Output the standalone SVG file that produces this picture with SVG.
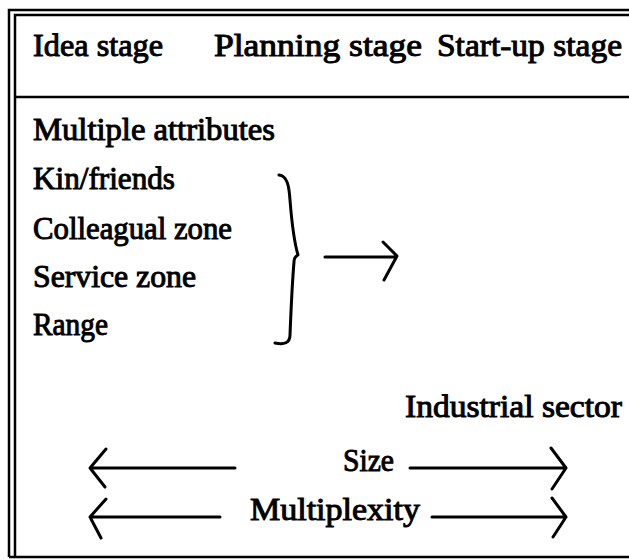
<svg xmlns="http://www.w3.org/2000/svg" width="629" height="560" viewBox="0 0 629 560">
<style>
.t{font-family:'Liberation Serif',serif;font-size:32px;fill:#000;stroke:#000;stroke-width:1px}
.frame{stroke:#000;stroke-width:2.5;fill:none}
.hand{stroke:#000;stroke-width:3;fill:none;stroke-linecap:round;stroke-linejoin:round}
</style>
<rect width="629" height="560" fill="#fff"/>
<g id="frame">
<path class="frame" d="M9,557 V10 H629"/>
<path class="frame" d="M15,557 V15 H629"/>
<path class="frame" d="M15,97 H629"/>
<path class="frame" d="M9,557 H629"/>
</g>
<g id="header">
<text class="t" x="33" y="56" textLength="130" lengthAdjust="spacingAndGlyphs">Idea stage</text>
<text class="t" x="214" y="56" textLength="208" lengthAdjust="spacingAndGlyphs">Planning stage</text>
<text class="t" x="437" y="56" textLength="185" lengthAdjust="spacingAndGlyphs">Start-up stage</text>
</g>
<g id="attributes">
<text class="t" x="33" y="140" textLength="242" lengthAdjust="spacingAndGlyphs">Multiple attributes</text>
<text class="t" x="33" y="189" textLength="142" lengthAdjust="spacingAndGlyphs">Kin/friends</text>
<text class="t" x="33" y="239" textLength="199" lengthAdjust="spacingAndGlyphs">Colleagual zone</text>
<text class="t" x="33" y="287" textLength="163" lengthAdjust="spacingAndGlyphs">Service zone</text>
<text class="t" x="33" y="335" textLength="75" lengthAdjust="spacingAndGlyphs">Range</text>
</g>
<g id="industrial">
<text class="t" x="405" y="417" textLength="217" lengthAdjust="spacingAndGlyphs">Industrial sector</text>
</g>
<g id="size">
<text class="t" x="343" y="471" textLength="51" lengthAdjust="spacingAndGlyphs">Size</text>
</g>
<g id="multiplexity">
<text class="t" x="250" y="520" textLength="170" lengthAdjust="spacingAndGlyphs">Multiplexity</text>
</g>
<g id="connectors">
<path class="hand" d="M279,175 C287,176 289,185 290,200 C292,225 295,245 298,255 C296,256 294,258 294,262 C292,285 291,310 290,335 C290,343 284,345 275,343"/>
<path class="hand" d="M325,257 H396 M383,242 L397,256 L384,280"/>
<path class="hand" d="M235,468 H90 M106,449 L90,468 L105,487"/>
<path class="hand" d="M410,468 H566 M551,448 L566,468 L552,489"/>
<path class="hand" d="M220,517 H90 M106,499 L90,517 L101,538"/>
<path class="hand" d="M432,517 H566 M552,498 L566,517 L553,537"/>
</g>
</svg>
